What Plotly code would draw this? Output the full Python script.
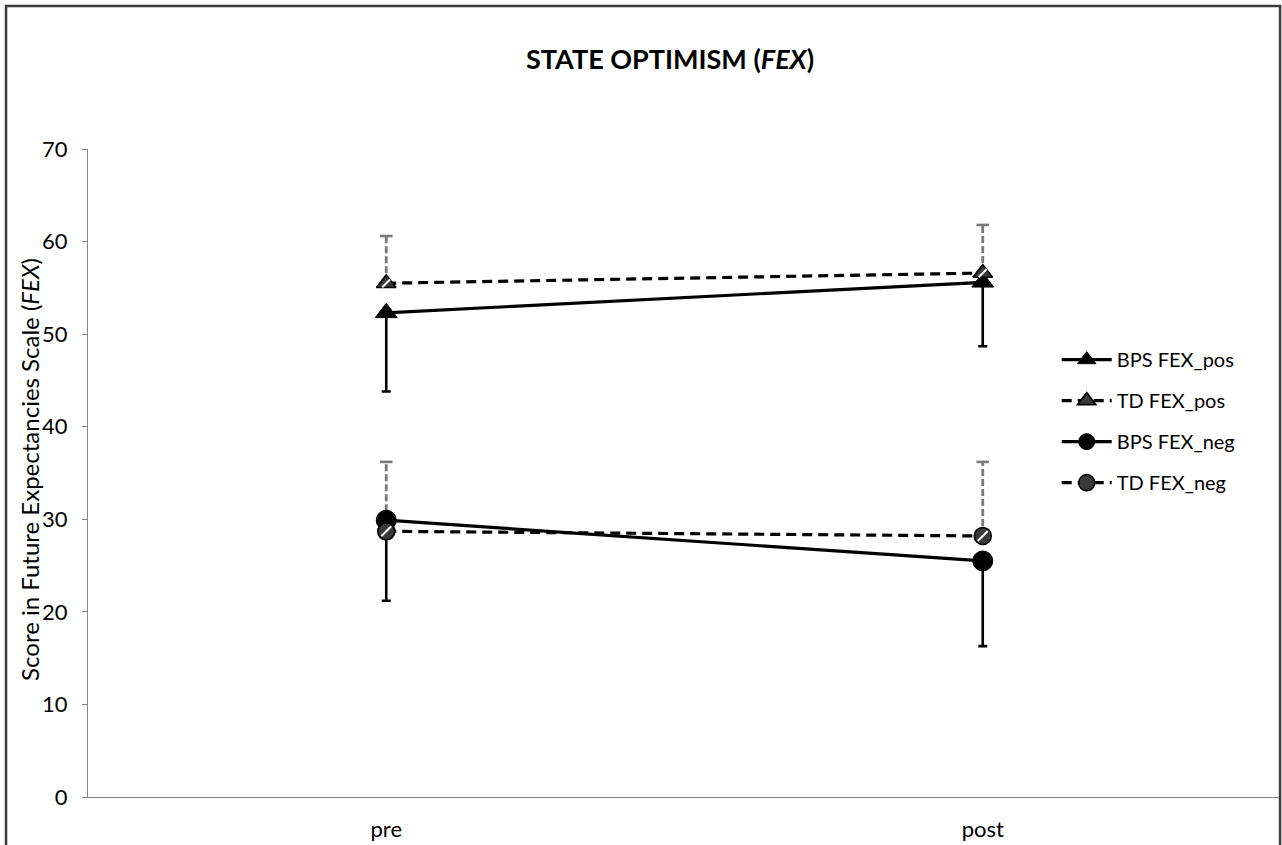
import plotly.graph_objects as go

# Measurement occasions
occasions = ["pre", "post"]

# Group means and standard deviations
bps_pos_mean = [52.3, 55.6]
bps_pos_sd = [8.5, 6.9]
td_pos_mean = [55.5, 56.6]
td_pos_sd = [5.1, 5.2]
bps_neg_mean = [29.9, 25.5]
bps_neg_sd = [8.7, 9.2]
td_neg_mean = [28.7, 28.2]
td_neg_sd = [7.5, 8.0]

y_ticks = [0, 10, 20, 30, 40, 50, 60, 70]

FONT = "Lato"
GREY_BAR = "#7a7a7a"

fig = go.Figure()


def bps_trace(name, mean, sd, symbol, size, group):
    # Solid black series with downward error bars
    return go.Scatter(
        x=occasions, y=mean, name=name, mode="lines+markers",
        legendgroup=group,
        line=dict(color="black", width=3.2),
        marker=dict(symbol=symbol, size=size, color="black",
                    line=dict(color="black", width=1)),
        error_y=dict(type="data", symmetric=False, array=[0, 0],
                     arrayminus=sd, color="black", thickness=2.6, width=4.5),
    )


def td_error(mean, sd, group):
    # Dashed grey upward error bars with caps
    traces = []
    for x, m, s in zip(occasions, mean, sd):
        traces.append(go.Scatter(
            x=[x, x], y=[m, m + s], mode="lines", showlegend=False,
            legendgroup=group, hoverinfo="skip",
            line=dict(color=GREY_BAR, width=2.8, dash="7px,3px"),
        ))
    traces.append(go.Scatter(
        x=occasions, y=[m + s for m, s in zip(mean, sd)], mode="markers",
        showlegend=False, legendgroup=group, hoverinfo="skip",
        marker=dict(symbol="line-ew", size=9,
                    line=dict(color=GREY_BAR, width=2.6)),
    ))
    return traces


def td_trace(name, mean, symbol, size, group):
    # Dashed black series with hatched markers
    return go.Scatter(
        x=occasions, y=mean, name=name, mode="lines+markers",
        legendgroup=group,
        line=dict(color="black", width=3.2, dash="10px,6px"),
        marker=dict(symbol=symbol, size=size, color="#3a3a3a",
                    line=dict(color="black", width=1.6)),
    )


def hatch(mean, size, group):
    # White diagonal stripe drawn over the marker
    return go.Scatter(
        x=occasions, y=mean, mode="markers", showlegend=False,
        legendgroup=group, hoverinfo="skip",
        marker=dict(symbol="line-ne", size=size,
                    line=dict(color="white", width=2)),
    )


for t in td_error(td_pos_mean, td_pos_sd, "g2"):
    fig.add_trace(t)
for t in td_error(td_neg_mean, td_neg_sd, "g4"):
    fig.add_trace(t)

fig.add_trace(bps_trace("BPS FEX_pos", bps_pos_mean, bps_pos_sd,
                        "triangle-up", 19, "g1"))
fig.add_trace(td_trace("TD FEX_pos", td_pos_mean, "triangle-up", 17, "g2"))
fig.add_trace(hatch(td_pos_mean, 8, "g2"))
fig.add_trace(bps_trace("BPS FEX_neg", bps_neg_mean, bps_neg_sd,
                        "circle", 20, "g3"))
fig.add_trace(td_trace("TD FEX_neg", td_neg_mean, "circle", 17, "g4"))
fig.add_trace(hatch(td_neg_mean, 10, "g4"))

# Chart title and rotated axis title
fig.add_annotation(
    text="<b>STATE OPTIMISM (<i>FEX</i>)</b>",
    xref="paper", yref="paper", x=0.488, y=1.14,
    xanchor="center", yanchor="middle",
    showarrow=False, font=dict(family=FONT, size=27, color="black"),
)
fig.add_annotation(
    text="Score in Future Expectancies Scale (<i>FEX</i>)",
    xref="paper", yref="paper", x=-0.0485, y=0.505, textangle=-90,
    xanchor="center", yanchor="middle",
    showarrow=False, font=dict(family=FONT, size=24, color="black"),
)

# Outer chart frame
fig.add_shape(
    type="rect", xref="paper", yref="paper",
    x0=-0.0687, x1=0.9992, y0=-0.09, y1=1.2207,
    line=dict(color="#3c3c3c", width=2.5), fillcolor="rgba(0,0,0,0)",
    layer="above",
)

fig.update_layout(
    width=1282, height=845,
    margin=dict(l=88, r=1, t=149, b=48),
    paper_bgcolor="white", plot_bgcolor="white",
    font=dict(family=FONT, size=22, color="black"),
    showlegend=True,
    legend=dict(
        x=0.812, y=0.705, xanchor="left", yanchor="top",
        font=dict(family=FONT, size=20, color="black"),
        bgcolor="rgba(0,0,0,0)", tracegroupgap=12,
        traceorder="grouped", itemwidth=50,
    ),
    xaxis=dict(
        type="category", range=[-0.5, 1.5],
        showline=True, linecolor="#868686", linewidth=1.2,
        showgrid=False, zeroline=False, ticks="",
        ticklabelstandoff=12,
        tickfont=dict(family=FONT, size=22, color="black"),
    ),
    yaxis=dict(
        range=[0, 70], tickvals=y_ticks,
        showline=True, linecolor="#868686", linewidth=1.2,
        showgrid=False, zeroline=False,
        ticks="outside", ticklen=5, tickcolor="#868686",
        ticklabelstandoff=10,
        tickfont=dict(family=FONT, size=22, color="black"),
    ),
)

fig.write_html("out.html")
